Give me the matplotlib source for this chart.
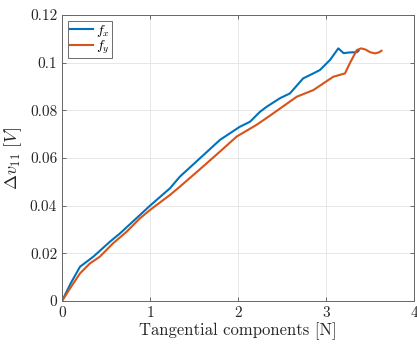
import numpy as np
import matplotlib
matplotlib.use("Agg")
import matplotlib.pyplot as plt

plt.rcParams['font.family'] = 'serif'
plt.rcParams['font.serif'] = ['cmr10', 'DejaVu Serif']
plt.rcParams['mathtext.fontset'] = 'cm'
plt.rcParams['axes.formatter.use_mathtext'] = True

# f_x curve
fx_x = [0, 0.1, 0.205, 0.356, 0.545, 0.66, 0.886, 1.0, 1.227, 1.34, 1.568, 1.795,
        2.02, 2.136, 2.25, 2.326, 2.477, 2.59, 2.74, 2.856, 2.93, 3.045, 3.14,
        3.2, 3.27, 3.35, 3.37]
fx_y = [0, 0.0075, 0.0144, 0.0186, 0.0249, 0.0284, 0.0361, 0.0400, 0.0473, 0.0522,
        0.0599, 0.0676, 0.0731, 0.0752, 0.0794, 0.0815, 0.0851, 0.0871, 0.0934,
        0.0955, 0.0969, 0.1011, 0.1060, 0.1040, 0.1043, 0.1044, 0.1050]

# f_y curve
fy_x = [0, 0.1, 0.205, 0.318, 0.43, 0.58, 0.735, 0.886, 1.0, 1.227, 1.34, 1.568,
        1.795, 1.985, 2.21, 2.345, 2.667, 2.856, 3.083, 3.216, 3.27, 3.35, 3.40,
        3.45, 3.5, 3.556, 3.6, 3.63]
fy_y = [0, 0.0058, 0.0116, 0.0158, 0.0186, 0.0242, 0.0291, 0.0347, 0.0382, 0.0445,
        0.0480, 0.0553, 0.0627, 0.0690, 0.0739, 0.0773, 0.0857, 0.0885, 0.0941,
        0.0955, 0.0997, 0.1053, 0.1060, 0.1055, 0.1044, 0.1039, 0.1043, 0.1050]

fig = plt.figure(figsize=(4.17, 3.49), dpi=100)
ax = fig.add_axes([0.1487, 0.1375, 0.8441, 0.8195])

ax.plot(fx_x, fx_y, color='#0072BD', lw=1.5, label='$f_x$')
ax.plot(fy_x, fy_y, color='#D95319', lw=1.5, label='$f_y$')

ax.set_xlim(0, 4)
ax.set_ylim(0, 0.12)
ax.set_xticks([0, 1, 2, 3, 4])
ax.set_xticklabels(['0', '1', '2', '3', '4'])
ax.set_yticks([0, 0.02, 0.04, 0.06, 0.08, 0.1, 0.12])
ax.set_yticklabels(['0', '0.02', '0.04', '0.06', '0.08', '0.1', '0.12'])
ax.grid(True, color='#e3e3e3', lw=0.6)
ax.set_axisbelow(True)
ax.tick_params(direction='in', top=True, right=True, labelsize=11,
               color='#555555', labelcolor='#262626', length=3, width=0.6)
for s in ax.spines.values():
    s.set_color('#666666')
    s.set_linewidth(0.7)

ax.set_xlabel('Tangential components [N]', fontsize=12, color='#262626', labelpad=2)
ax.set_ylabel(r'$\Delta v_{11}\ [V]$', fontsize=13, color='#262626', labelpad=4)

leg = ax.legend(loc='upper left', fontsize=10, fancybox=False, edgecolor='#555555',
                handlelength=1.7, handletextpad=0.2, borderpad=0.15, labelspacing=0.0,
                borderaxespad=0.4, framealpha=1)
leg.get_frame().set_linewidth(0.6)

fig.savefig('out.png', dpi=100)
